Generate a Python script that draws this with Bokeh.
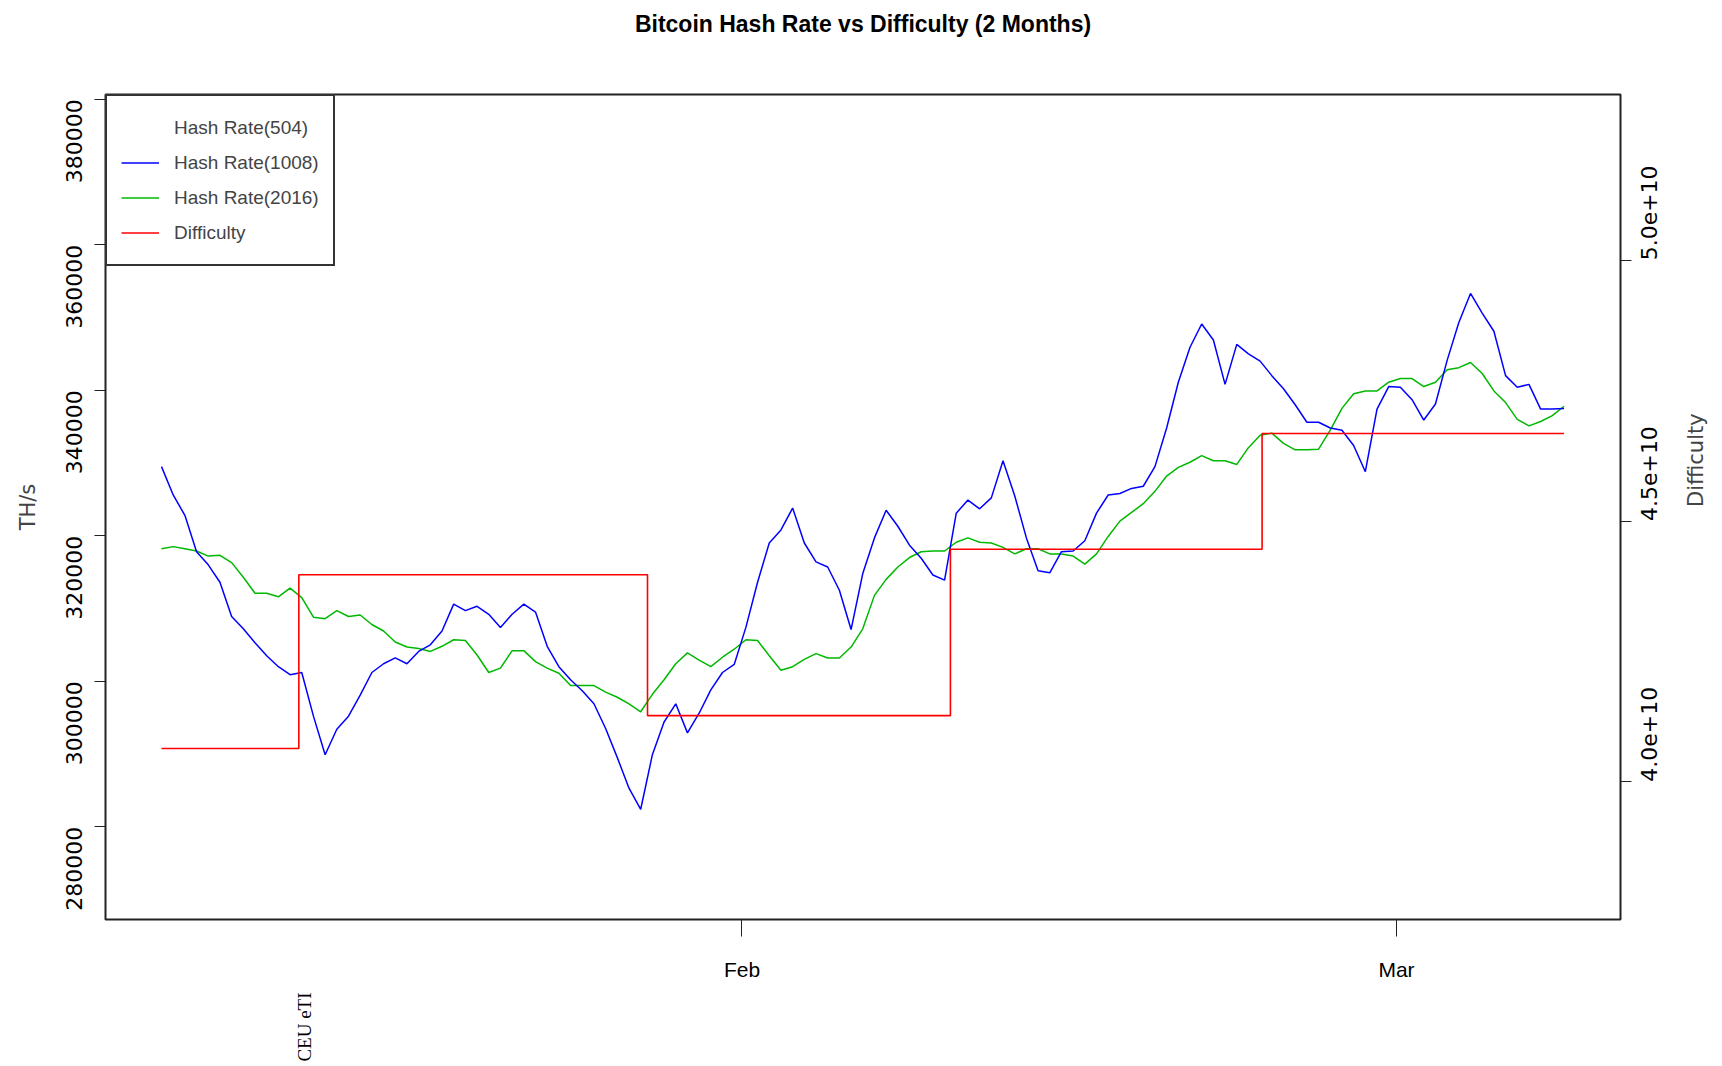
import math
import pandas as pd
from bokeh.plotting import figure
from bokeh.models import (Range1d, LinearAxis, DatetimeAxis, FixedTicker, DatetimeTickFormatter,
                          BasicTickFormatter, Legend, LegendItem, ColumnDataSource, Title)
from bokeh.embed import file_html
from bokeh.resources import INLINE

# ---------------- data ----------------
series_start = "2015-01-07 04:00"
sample_step = "12h"

hash_rate_1008 = [
    329500, 325600, 322800, 317800, 316000, 313600, 308900, 307200, 305300, 303500,
    302000, 300900, 301200, 295200, 289900, 293400, 295200, 298100, 301200, 302400,
    303200, 302400, 304100, 305000, 306900, 310600, 309700, 310300, 309200, 307400,
    309200, 310600, 309500, 304800, 302000, 300200, 298700, 296900, 293500, 289500,
    285300, 282400, 289900, 294400, 296900, 292900, 295600, 298800, 301200, 302300,
    307400, 313600, 319000, 320800, 323800, 319000, 316400, 315700, 312500, 307100,
    314800, 319700, 323500, 321300, 318700, 316900, 314600, 313900, 323100, 324900,
    323700, 325200, 330300, 325500, 319700, 315200, 314900, 317800, 317900, 319300,
    323100, 325600, 325800, 326500, 326800, 329500, 334800, 341100, 345900, 349100,
    346900, 340800, 346300, 345000, 344000, 342000, 340200, 338000, 335600, 335600,
    334800, 334500, 332400, 328800, 337400, 340500, 340400, 338700, 335900, 338100,
    344100, 349300, 353300, 350600, 348100, 342000, 340400, 340800, 337400, 337400,
    337500]

hash_rate_2016 = [
    318200, 318500, 318200, 317900, 317200, 317300, 316300, 314300, 312100, 312100,
    311600, 312800, 311500, 308800, 308600, 309700, 308900, 309100, 307800, 306900,
    305400, 304700, 304500, 304100, 304800, 305700, 305600, 303600, 301200, 301800,
    304200, 304200, 302700, 301800, 301100, 299400, 299400, 299400, 298500, 297800,
    296900, 295800, 298200, 300200, 302400, 303900, 302900, 302000, 303300, 304400,
    305700, 305600, 303500, 301500, 302000, 303000, 303800, 303200, 303200, 304700,
    307200, 311800, 314000, 315700, 317000, 317800, 317900, 317900, 319100, 319700,
    319100, 319000, 318400, 317500, 318200, 318200, 317500, 317500, 317200, 316100,
    317500, 319900, 322000, 323200, 324400, 326100, 328200, 329400, 330100, 331000,
    330300, 330300, 329800, 332100, 333800, 334100, 332700, 331800, 331800, 331900,
    334500, 337500, 339500, 339900, 339900, 341100, 341600, 341600, 340500, 341100,
    342800, 343100, 343800, 342300, 339900, 338300, 336000, 335100, 335700, 336500,
    337800]

difficulty_times = ["2015-01-07 04:00", "2015-01-13 01:00", "2015-01-27 23:00",
                    "2015-02-09 22:00", "2015-02-23 06:00", "2015-03-08 04:00"]
difficulty_values = [4.064e10, 4.397e10, 4.127e10, 4.446e10, 4.668e10, 4.668e10]

hash_ticks = [280000, 300000, 320000, 340000, 360000, 380000]
difficulty_ticks = [4.0e10, 4.5e10, 5.0e10]
month_ticks = ["2015-02-01", "2015-03-01"]
month_label_format = "%b"          # -> "Feb", "Mar"

legend_labels = ["Hash Rate(504)", "Hash Rate(1008)", "Hash Rate(2016)", "Difficulty"]
title_text = "Bitcoin Hash Rate vs Difficulty (2 Months)"
note_text = "CEU eTI"
note_time = "2015-01-13 06:45"

# ---------------- figure ----------------
SANS = "Liberation Sans"
WIDE = "DejaVu Sans"
FMT_FIELDS = ["microseconds", "milliseconds", "seconds", "minsec", "minutes",
              "hourmin", "hours", "days", "months", "years"]

times = pd.date_range(series_start, periods=len(hash_rate_1008), freq=sample_step)
diff_t = pd.to_datetime(difficulty_times)

p = figure(width=1722, height=1064, x_axis_type="datetime",
           x_range=Range1d(pd.Timestamp("2015-01-04 18:30"), pd.Timestamp("2015-03-10 14:00")),
           y_range=Range1d(267250, 380644),
           output_backend="svg", toolbar_location=None,
           min_border_left=105, min_border_right=101, min_border_top=94, min_border_bottom=143)
p.extra_y_ranges = {"diff": Range1d(3.736e10, 5.318e10)}

# the title sits near the top edge of the page: two empty lines below it push it up
p.title.text = title_text + "\n\n"
p.title.align = "center"
p.title.vertical_align = "top"
p.title.text_font = SANS
p.title.text_font_style = "bold"
p.title.text_font_size = "23px"
p.title.text_line_height = 1.07
p.title.text_color = "black"
if "standoff" in Title.properties():
    p.title.standoff = 0

p.xgrid.visible = False
p.ygrid.visible = False
p.outline_line_color = "#222222"
p.outline_line_width = 2
p.background_fill_color = "white"
p.border_fill_color = "white"

src1008 = ColumnDataSource(dict(t=times, v=hash_rate_1008))
src2016 = ColumnDataSource(dict(t=times, v=hash_rate_2016))
src504 = ColumnDataSource(dict(t=[], v=[]))

r504 = p.line("t", "v", source=src504, line_color="white", line_width=1.5)
r2016 = p.line("t", "v", source=src2016, line_color="#00B800", line_width=1.5)
r1008 = p.line("t", "v", source=src1008, line_color="#0000FF", line_width=1.5)
rdiff = p.step(x=diff_t, y=difficulty_values, mode="after", y_range_name="diff",
               line_color="#FF0000", line_width=1.6)

# x axis
xa = p.xaxis[0]
xa.ticker = FixedTicker(ticks=[pd.Timestamp(m).timestamp() * 1000 for m in month_ticks])
xa.formatter = DatetimeTickFormatter(**{f: month_label_format for f in FMT_FIELDS})
xa.axis_line_color = None
xa.major_tick_out = 17
xa.major_tick_in = 0
xa.minor_tick_line_color = None
xa.major_tick_line_color = "#222222"
xa.major_label_standoff = 21
xa.major_label_text_font = SANS
xa.major_label_text_font_size = "21px"
xa.major_label_text_color = "black"

# stray rotated note under the x axis (drawn as a second axis' single label)
note_axis = DatetimeAxis(ticker=FixedTicker(ticks=[pd.Timestamp(note_time).timestamp() * 1000]),
                         formatter=DatetimeTickFormatter(**{f: note_text for f in FMT_FIELDS}))
note_axis.axis_line_color = None
note_axis.major_tick_line_color = None
note_axis.minor_tick_line_color = None
note_axis.major_tick_out = 0
note_axis.major_tick_in = 0
note_axis.major_label_orientation = math.pi / 2
note_axis.major_label_standoff = 9
note_axis.major_label_text_font = "Liberation Serif"
note_axis.major_label_text_font_size = "19px"
note_axis.major_label_text_color = "black"
p.add_layout(note_axis, "below")

# left axis
ya = p.yaxis[0]
ya.ticker = FixedTicker(ticks=hash_ticks)
ya.formatter = BasicTickFormatter(use_scientific=False)
ya.major_label_orientation = math.pi / 2
ya.axis_line_color = None
ya.major_tick_out = 11
ya.major_tick_in = 0
ya.minor_tick_line_color = None
ya.major_tick_line_color = "#222222"
ya.major_label_standoff = 20
ya.major_label_text_font = WIDE
ya.major_label_text_font_size = "22px"
ya.major_label_text_color = "black"
ya.axis_label = "TH/s"
ya.axis_label_text_font = WIDE
ya.axis_label_text_font_style = "normal"
ya.axis_label_text_font_size = "21px"
ya.axis_label_standoff = 16

# right axis
ra = LinearAxis(y_range_name="diff", ticker=FixedTicker(ticks=difficulty_ticks),
                formatter=BasicTickFormatter(precision=1, power_limit_high=5))
ra.major_label_orientation = math.pi / 2
ra.axis_line_color = None
ra.major_tick_out = 11
ra.major_tick_in = 0
ra.minor_tick_line_color = None
ra.major_tick_line_color = "#222222"
ra.major_label_standoff = 18
ra.major_label_text_font = WIDE
ra.major_label_text_font_size = "22px"
ra.major_label_text_color = "black"
ra.axis_label = "Difficulty"
ra.axis_label_text_font = WIDE
ra.axis_label_text_font_style = "normal"
ra.axis_label_text_font_size = "21px"
ra.axis_label_standoff = 27
if "axis_label_orientation" in LinearAxis.properties():
    ra.axis_label_orientation = math.pi / 2
p.add_layout(ra, "right")

# legend
legend = Legend(items=[LegendItem(label=legend_labels[0], renderers=[r504]),
                       LegendItem(label=legend_labels[1], renderers=[r1008]),
                       LegendItem(label=legend_labels[2], renderers=[r2016]),
                       LegendItem(label=legend_labels[3], renderers=[rdiff])],
                location="top_left", margin=0, padding=14, spacing=0,
                glyph_width=38, glyph_height=35, label_height=35, label_standoff=15,
                border_line_color="#333333", border_line_width=2, border_line_alpha=1,
                label_text_font=SANS, label_text_font_size="19px",
                background_fill_color="white", background_fill_alpha=1)
p.add_layout(legend)

open("out.html", "w").write(file_html(p, INLINE))
